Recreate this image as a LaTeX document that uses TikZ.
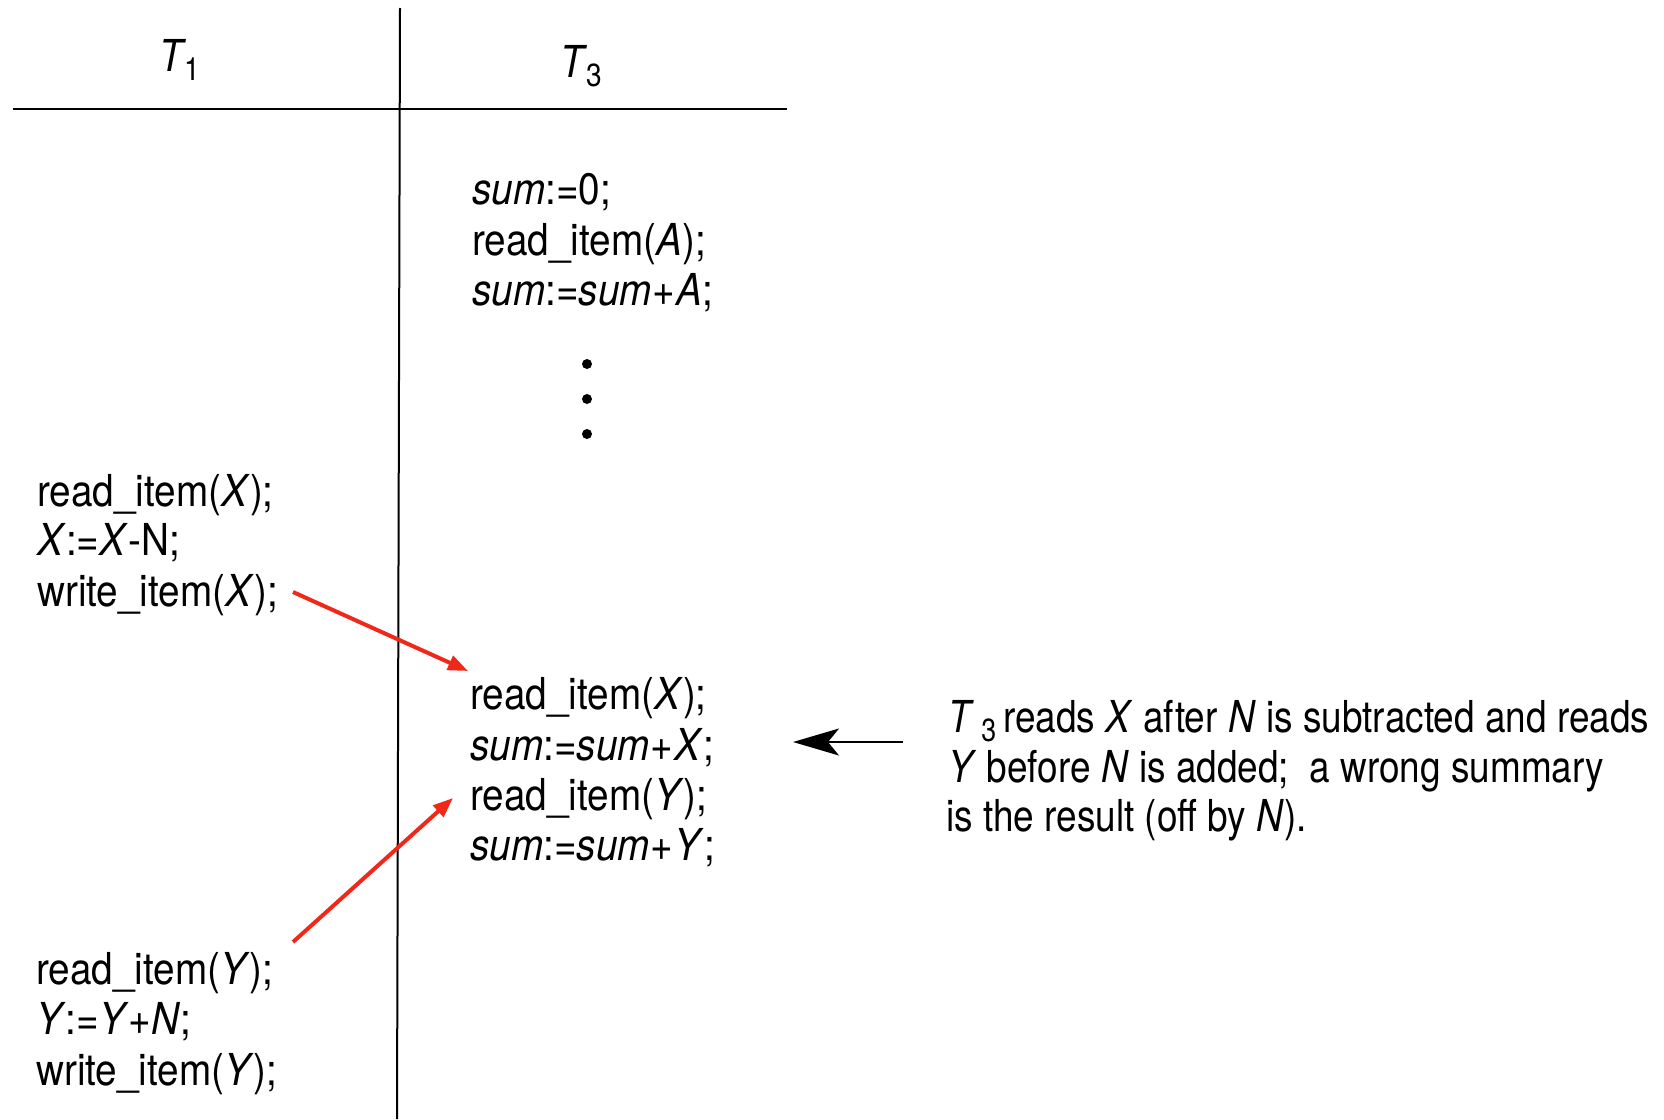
\documentclass[tikz,border=0pt]{standalone}
\usepackage{fontspec}
\setmainfont{TeX Gyre Heros}[FakeStretch=0.88]
\newfontfamily\annfont{TeX Gyre Heros}[FakeStretch=0.84]
\usetikzlibrary{arrows.meta}
\definecolor{redarr}{RGB}{240,40,25}
\newcommand{\mysub}[1]{\raisebox{-9pt}{\fontsize{32}{32}\selectfont #1}}
\begin{document}
\begin{tikzpicture}[x=1pt,y=-1pt,
  txt/.style={anchor=base west,inner sep=0pt,font=\fontsize{44}{50}\selectfont},
  ann/.style={anchor=base west,inner sep=0pt,font=\annfont\fontsize{44}{50}\selectfont},
  rule/.style={line width=2pt,black},
  redarrow/.style={line width=4pt,redarr,-{Triangle[length=20pt,width=15pt]}},
  blackarrow/.style={line width=1.6pt,black,-{Stealth[length=46pt,width=27pt,inset=11pt]}},
  dot/.style={circle,fill=black,inner sep=0pt,minimum size=10pt}]
\useasboundingbox (0,0) rectangle (1664,1119);
% table rules
\coordinate (vtop) at (400,8);
\coordinate (vbot) at (397,1119);
\coordinate (hl) at (13,109);
\coordinate (hr) at (787,109);
\draw[rule] (vtop) -- (vbot);
\draw[rule] (hl) -- (hr);
% headers
\node[txt] (h1) at (159,71) {\textit{T}\hspace{-2pt}\mysub{1}};
\node[txt] (h3) at (560,77) {\textit{T}\hspace{-1pt}\mysub{3}};
% T3 first block
\node[txt] (a1) at (472,204) {\textit{sum}:=0;};
\node[txt] (a2) at (472,255) {read\_item(\textit{A});};
\node[txt] (a3) at (472,305) {\textit{sum}:=\textit{sum}\hspace{1pt}+\hspace{1pt}\textit{A};};
\node[dot] (d1) at (587,364) {};
\node[dot] (d2) at (587,399) {};
\node[dot] (d3) at (587,434) {};
% T1 first block
\node[txt] (b1) at (37,506) {read\_item(\textit{X});};
\node[txt] (b2) at (37,555) {\textit{X}:=\textit{X}-N;};
\node[txt] (b3) at (37,606) {write\_item(\textit{X});};
% T3 second block
\node[txt] (c1) at (470,709) {read\_item(\textit{X});};
\node[txt] (c2) at (470,760) {\textit{sum}:=\textit{sum}\hspace{1pt}+\hspace{1pt}\textit{X};};
\node[txt] (c3) at (470,810) {read\_item(\textit{Y});};
\node[txt] (c4) at (470,860) {\textit{sum}:=\textit{sum}\hspace{1pt}+\hspace{1pt}\textit{Y};};
% T1 second block
\node[txt] (e1) at (36,984) {read\_item(\textit{Y});};
\node[txt] (e2) at (36,1034) {\textit{Y}:=\textit{Y}+\textit{N};};
\node[txt] (e3) at (36,1085) {write\_item(\textit{Y});};
% annotation
\node[ann] (n1) at (948,732) {\textit{T}\,\mysub{3}\hspace{7pt}reads \textit{X} after \textit{N} is subtracted and reads};
\node[ann] (n2) at (948,782) {\textit{Y} before \textit{N} is added;\ \ a wrong summary};
\node[ann] (n3) at (946,831) {is the result (off by \textit{N}).};
% arrows
\coordinate (r1s) at (293,592);
\coordinate (r1e) at (468,671);
\coordinate (r2s) at (293,942);
\coordinate (r2e) at (453,798);
\draw[redarrow] (r1s) -- (r1e);
\draw[redarrow] (r2s) -- (r2e);
\coordinate (ks) at (903,742);
\coordinate (ke) at (793,742);
\draw[blackarrow] (ks) -- (ke);
\end{tikzpicture}
\end{document}
